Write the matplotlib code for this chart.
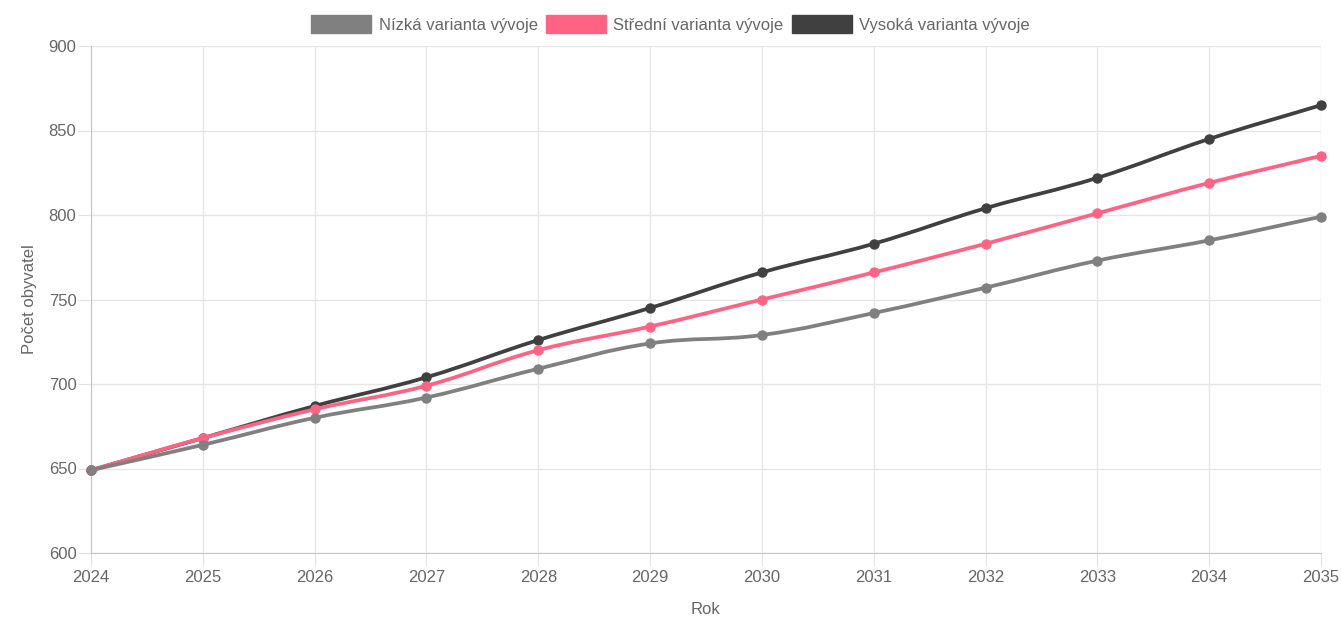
import numpy as np
import matplotlib
matplotlib.use("Agg")
import matplotlib.pyplot as plt
from matplotlib.path import Path
from matplotlib.patches import PathPatch, Patch

plt.rcParams['font.family'] = ['Liberation Sans', 'DejaVu Sans']

roky = [2024, 2025, 2026, 2027, 2028, 2029, 2030, 2031, 2032, 2033, 2034, 2035]
nizka = [649, 664, 680, 692, 709, 724, 729, 742, 757, 773, 785, 799]
stredni = [649, 668, 685, 699, 720, 734, 750, 766, 783, 801, 819, 835]
vysoka = [649, 668, 687, 704, 726, 745, 766, 783, 804, 822, 845, 865]

nazvy = ['Nízká varianta vývoje', 'Střední varianta vývoje', 'Vysoká varianta vývoje']
barvy = ['#808080', '#ff6384', '#404040']


def spline_path(ax, xs, ys, tension=0.4):
    '''hladka krivka jako v Chart.js, pocitana v pixelech'''
    pts = ax.transData.transform(np.column_stack([xs, ys]))
    n = len(pts)
    prev_cp = np.zeros_like(pts)
    next_cp = np.zeros_like(pts)
    for i in range(n):
        p0 = pts[i - 1] if i > 0 else pts[i]
        p1 = pts[i]
        p2 = pts[i + 1] if i < n - 1 else pts[i]
        d01 = np.hypot(*(p1 - p0))
        d12 = np.hypot(*(p2 - p1))
        tot = d01 + d12
        s01 = d01 / tot if tot else 0
        s12 = d12 / tot if tot else 0
        prev_cp[i] = p1 - tension * s01 * (p2 - p0)
        next_cp[i] = p1 + tension * s12 * (p2 - p0)
    verts = [pts[0]]
    codes = [Path.MOVETO]
    for i in range(n - 1):
        verts += [next_cp[i], prev_cp[i + 1], pts[i + 1]]
        codes += [Path.CURVE4] * 3
    verts = ax.transData.inverted().transform(np.array(verts))
    return Path(verts, codes)


fig = plt.figure(figsize=(13.41, 6.23), dpi=100)
ax = fig.add_axes([91 / 1341, 70 / 623, (1321 - 91) / 1341, (553 - 46) / 623])
ax.set_xlim(2024, 2035)
ax.set_ylim(600, 900)

rady = [nizka, stredni, vysoka]
for k, (hodnoty, barva) in enumerate(zip(rady, barvy)):
    z = 10 - k
    path = spline_path(ax, roky, hodnoty)
    ax.add_patch(PathPatch(path, facecolor='none', edgecolor=barva, lw=2.7,
                           zorder=z, capstyle='round', joinstyle='round'))
    ax.plot(roky, hodnoty, 'o', color=barva, ms=6.5, zorder=z, clip_on=False)

ax.set_xticks(roky)
ax.set_yticks(np.arange(600, 901, 50))
ax.grid(True, color='#e6e6e6', lw=1)
ax.set_axisbelow(True)
ax.tick_params(colors='#e0e0e0', labelcolor='#666666', labelsize=12, length=9.5, pad=1)
ax.tick_params(axis='x', pad=3)
for s in ['top', 'right']:
    ax.spines[s].set_visible(False)
for s in ['left', 'bottom']:
    ax.spines[s].set_color('#c4c4c4')

ax.set_xlabel('Rok', color='#666666', fontsize=12, labelpad=12)
ax.set_ylabel('Počet obyvatel', color='#666666', fontsize=12, labelpad=8)

handles = [Patch(facecolor=b, edgecolor=b, lw=1) for b in barvy]
fig.legend(handles, nazvy, loc='center', bbox_to_anchor=(0.5, 1 - 24 / 623), ncol=3,
           frameon=False, fontsize=12, labelcolor='#666666', handlelength=3.6,
           handleheight=1.2, handletextpad=0.45, columnspacing=0.5)

fig.savefig('out.png', dpi=100)
